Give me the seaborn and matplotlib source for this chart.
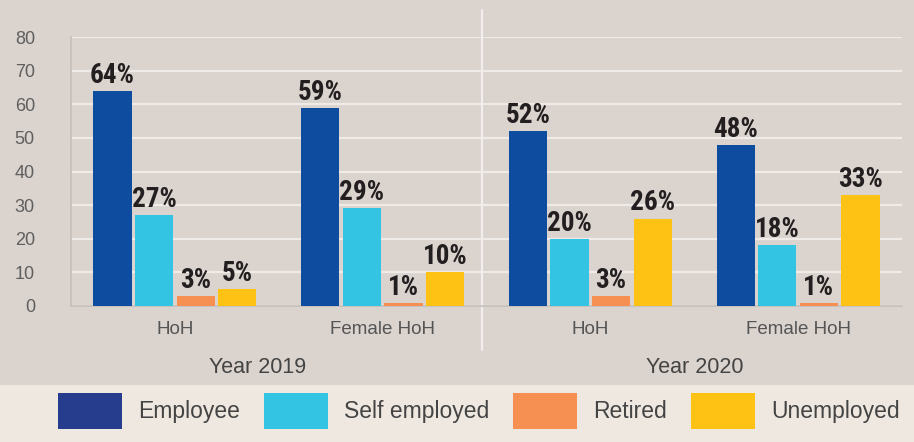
import pandas as pd
import seaborn as sns
import matplotlib.pyplot as plt
from matplotlib.patches import Patch, Rectangle

groups = ["HoH 2019", "Female HoH 2019", "HoH 2020", "Female HoH 2020"]
tick_labels = ["HoH", "Female HoH", "HoH", "Female HoH"]
statuses = ["Employee", "Self employed", "Retired", "Unemployed"]
employee = [64, 59, 52, 48]
self_employed = [27, 29, 20, 18]
retired = [3, 1, 3, 1]
unemployed = [5, 10, 26, 33]
years = ["Year 2019", "Year 2020"]

bar_colors = ["#0d4c9f", "#33c3e3", "#f68f52", "#fdc213"]
legend_colors = ["#253d8c", "#33c3e3", "#f68f52", "#fdc213"]
bg = "#dbd3ce"

rows = []
for name, vals in zip(statuses, [employee, self_employed, retired, unemployed]):
    for g, v in zip(groups, vals):
        rows.append({"group": g, "status": name, "value": v})
df = pd.DataFrame(rows)

sns.set_style("white")
plt.rcParams["font.family"] = ["Liberation Sans", "DejaVu Sans"]

fig = plt.figure(figsize=(9.14, 4.42), dpi=100, facecolor=bg)
fig.add_artist(Rectangle((0, 0), 1, 57 / 442, transform=fig.transFigure,
                         facecolor="#efe8e0", edgecolor="none", zorder=0))
ax = fig.add_axes([71 / 914, 136 / 442, 831 / 914, 269 / 442])
ax.set_facecolor(bg)

sns.barplot(data=df, x="group", y="value", hue="status", order=groups,
            hue_order=statuses, palette=bar_colors, width=0.8, gap=0.08,
            saturation=1, legend=False, edgecolor="none", linewidth=0,
            ax=ax, zorder=3)

# condensed bold for the value labels
narrow = ["Roboto Condensed", "Liberation Sans Narrow", "DejaVu Sans"]
for cont in ax.containers:
    ax.bar_label(cont, fmt="%d%%", padding=1.5, fontsize=19.5, fontweight="bold",
                 fontstretch="condensed", color="#231f20", family=narrow)

ax.set_ylim(0, 80)
ax.set_xlim(-0.5, 3.5)
ax.set_yticks(range(0, 81, 10))
ax.set_xticks(range(4))
ax.set_xticklabels(tick_labels)
ax.grid(axis="y", color="#efebe8", linewidth=1.6, zorder=0)
ax.tick_params(axis="y", labelsize=13, labelcolor="#5f5f5f", pad=26, length=0)
ax.tick_params(axis="x", labelsize=13.5, labelcolor="#555555", pad=11, length=0)
ax.set_xlabel("")
ax.set_ylabel("")
for s in ["top", "right"]:
    ax.spines[s].set_visible(False)
for s in ["left", "bottom"]:
    ax.spines[s].set_color("#c4bfbb")
    ax.spines[s].set_linewidth(1.2)

ax.axvline(1.48, ymin=-0.164, ymax=1.10, color="#f1eeec", linewidth=1.6,
           clip_on=False, zorder=1)
for x, label in zip([0.4, 2.5], years):
    ax.text(x, -0.23, label, transform=ax.get_xaxis_transform(), ha="center",
            va="center", fontsize=15.5, color="#444444")

handles = [Patch(facecolor=c, edgecolor="none") for c in legend_colors]
fig.legend(handles, statuses, loc="center left", bbox_to_anchor=(37 / 914, 31 / 442),
           ncol=4, frameon=False, fontsize=16.5, handlelength=2.8, handleheight=2.1,
           handletextpad=0.7, columnspacing=1.05, labelcolor="#444444")

fig.savefig("out.png", dpi=100, facecolor=bg)
